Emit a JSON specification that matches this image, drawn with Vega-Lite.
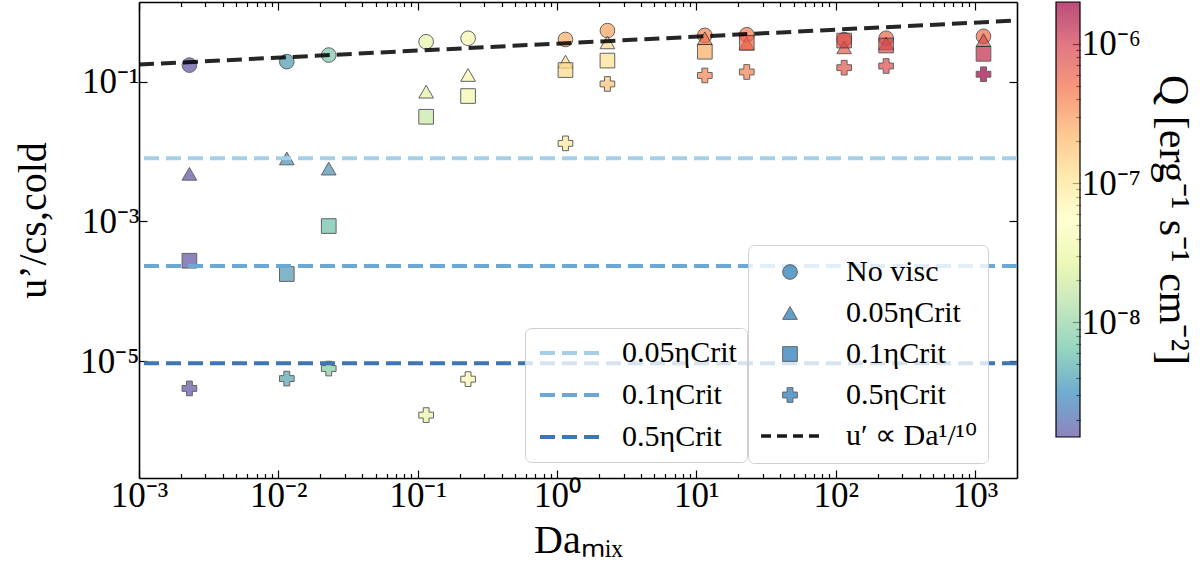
{
  "$schema": "https://vega.github.io/schema/vega-lite/v6.json",
  "background": "white",
  "padding": {"left": 13, "top": 1, "right": 15, "bottom": 0},
  "autosize": {"type": "pad"},
  "spacing": 36,
  "config": {
    "font": "Liberation Serif",
    "view": {"stroke": null},
    "axis": {
      "grid": false,
      "labelFont": "Liberation Serif",
      "labelFontSize": 35,
      "labelColor": "#000000",
      "titleFont": "Liberation Serif",
      "titleFontSize": 40,
      "titleFontWeight": "normal",
      "titleColor": "#000000",
      "domainColor": "#000000",
      "domainWidth": 1.6,
      "tickColor": "#000000",
      "tickWidth": 1.2,
      "labelOverlap": false,
      "labelFlush": false,
      "labelBound": false
    },
    "legend": {
      "labelFont": "Liberation Serif",
      "labelFontSize": 30,
      "labelColor": "#000000",
      "fillColor": "rgba(255,255,255,0.8)",
      "strokeColor": "#d0d0d0",
      "cornerRadius": 6
    }
  },
  "datasets": {
    "runs": [
      {"da": 0.0023, "u": 0.173, "q": 1.5e-9, "visc": "No visc"},
      {"da": 0.0115, "u": 0.194, "q": 3.8e-9, "visc": "No visc"},
      {"da": 0.023, "u": 0.241, "q": 7.4e-9, "visc": "No visc"},
      {"da": 0.115, "u": 0.374, "q": 3.1e-8, "visc": "No visc"},
      {"da": 0.23, "u": 0.419, "q": 4.8e-8, "visc": "No visc"},
      {"da": 1.15, "u": 0.403, "q": 2.3e-7, "visc": "No visc"},
      {"da": 2.3, "u": 0.54, "q": 2.7e-7, "visc": "No visc"},
      {"da": 11.5, "u": 0.462, "q": 3.8e-7, "visc": "No visc"},
      {"da": 23, "u": 0.471, "q": 4.4e-7, "visc": "No visc"},
      {"da": 115, "u": 0.40, "q": 5.5e-7, "visc": "No visc"},
      {"da": 230, "u": 0.42, "q": 5.5e-7, "visc": "No visc"},
      {"da": 1150, "u": 0.447, "q": 5.1e-7, "visc": "No visc"},
      {"da": 0.0023, "u": 0.0048, "q": 1.5e-9, "visc": "0.05ηCrit"},
      {"da": 0.0115, "u": 0.00797, "q": 3.4e-9, "visc": "0.05ηCrit"},
      {"da": 0.023, "u": 0.0057, "q": 3.5e-9, "visc": "0.05ηCrit"},
      {"da": 0.115, "u": 0.072, "q": 2.8e-8, "visc": "0.05ηCrit"},
      {"da": 0.23, "u": 0.125, "q": 5.0e-8, "visc": "0.05ηCrit"},
      {"da": 1.15, "u": 0.194, "q": 1.1e-7, "visc": "0.05ηCrit"},
      {"da": 2.3, "u": 0.366, "q": 1.2e-7, "visc": "0.05ηCrit"},
      {"da": 11.5, "u": 0.419, "q": 4.7e-7, "visc": "0.05ηCrit"},
      {"da": 23, "u": 0.355, "q": 5.5e-7, "visc": "0.05ηCrit"},
      {"da": 115, "u": 0.311, "q": 6.3e-7, "visc": "0.05ηCrit"},
      {"da": 230, "u": 0.355, "q": 7.5e-7, "visc": "0.05ηCrit"},
      {"da": 1150, "u": 0.395, "q": 7.8e-7, "visc": "0.05ηCrit"},
      {"da": 0.0023, "u": 0.000273, "q": 1.5e-9, "visc": "0.1ηCrit"},
      {"da": 0.0115, "u": 0.000176, "q": 3.8e-9, "visc": "0.1ηCrit"},
      {"da": 0.023, "u": 0.000857, "q": 6.5e-9, "visc": "0.1ηCrit"},
      {"da": 0.115, "u": 0.0315, "q": 1.9e-8, "visc": "0.1ηCrit"},
      {"da": 0.23, "u": 0.0624, "q": 4.5e-8, "visc": "0.1ηCrit"},
      {"da": 1.15, "u": 0.147, "q": 1.15e-7, "visc": "0.1ηCrit"},
      {"da": 2.3, "u": 0.201, "q": 1.05e-7, "visc": "0.1ηCrit"},
      {"da": 11.5, "u": 0.269, "q": 2.3e-7, "visc": "0.1ηCrit"},
      {"da": 23, "u": 0.36, "q": 5.5e-7, "visc": "0.1ηCrit"},
      {"da": 115, "u": 0.389, "q": 7.8e-7, "visc": "0.1ηCrit"},
      {"da": 230, "u": 0.33, "q": 8.4e-7, "visc": "0.1ηCrit"},
      {"da": 1150, "u": 0.251, "q": 1.2e-6, "visc": "0.1ηCrit"},
      {"da": 0.0023, "u": 4.05e-6, "q": 1.5e-9, "visc": "0.5ηCrit"},
      {"da": 0.0115, "u": 5.6e-6, "q": 4.5e-9, "visc": "0.5ηCrit"},
      {"da": 0.023, "u": 7.8e-6, "q": 8.5e-9, "visc": "0.5ηCrit"},
      {"da": 0.115, "u": 1.68e-6, "q": 3.8e-8, "visc": "0.5ηCrit"},
      {"da": 0.23, "u": 5.5e-6, "q": 5.6e-8, "visc": "0.5ηCrit"},
      {"da": 1.15, "u": 0.0131, "q": 8.4e-8, "visc": "0.5ηCrit"},
      {"da": 2.3, "u": 0.093, "q": 1.75e-7, "visc": "0.5ηCrit"},
      {"da": 11.5, "u": 0.123, "q": 3.8e-7, "visc": "0.5ηCrit"},
      {"da": 23, "u": 0.138, "q": 4.0e-7, "visc": "0.5ηCrit"},
      {"da": 115, "u": 0.159, "q": 6.8e-7, "visc": "0.5ηCrit"},
      {"da": 230, "u": 0.168, "q": 7.8e-7, "visc": "0.5ηCrit"},
      {"da": 1150, "u": 0.128, "q": 2.0e-6, "visc": "0.5ηCrit"}
    ],
    "etaLines": [
      {"eta": "0.05ηCrit", "u": 0.0080},
      {"eta": "0.1ηCrit", "u": 0.000229},
      {"eta": "0.5ηCrit", "u": 9.25e-6}
    ],
    "scaling": [
      {"da": 0.001, "u": 0.176},
      {"da": 2000, "u": 0.752}
    ],
    "qRange": [
      {"qlo": 1.5e-9, "qhi": 2e-6}
    ]
  },
  "resolve": {"legend": {"shape": "independent", "stroke": "independent", "fill": "independent"}},
  "hconcat": [
    {
      "width": 878,
      "height": 476,
      "resolve": {"axis": {"x": "independent", "y": "independent"}},
      "layer": [
        {
          "data": {"name": "runs"},
          "mark": {"type": "point", "filled": true, "size": 215, "opacity": 0.7, "stroke": "#222222", "strokeWidth": 1},
          "encoding": {
            "x": {
              "field": "da", "type": "quantitative",
              "scale": {"type": "log", "domain": [0.001, 2000], "nice": false},
              "axis": {
                "orient": "bottom",
                "title": "Daₘᵢₓ",
                "titlePadding": 4,
                "labelPadding": 8,
                "values": [0.001,0.002,0.003,0.004,0.005,0.006,0.007,0.008,0.009,0.01,0.02,0.03,0.04,0.05,0.06,0.07,0.08,0.09,0.1,0.2,0.3,0.4,0.5,0.6,0.7,0.8,0.9,1,2,3,4,5,6,7,8,9,10,20,30,40,50,60,70,80,90,100,200,300,400,500,600,700,800,900,1000],
                "tickSize": {"condition": {"test": "indexof([0.001,0.01,0.1,1,10,100,1000], datum.value) >= 0", "value": -8}, "value": -4.5},
                "labelExpr": "datum.value == 0.001 ? '10⁻³' : datum.value == 0.01 ? '10⁻²' : datum.value == 0.1 ? '10⁻¹' : datum.value == 1 ? '10⁰' : datum.value == 10 ? '10¹' : datum.value == 100 ? '10²' : datum.value == 1000 ? '10³' : ''"
              }
            },
            "y": {
              "field": "u", "type": "quantitative",
              "scale": {"type": "log", "domain": [2.11e-7, 1.387], "nice": false},
              "axis": {
                "orient": "left",
                "title": "u’/cs,cold",
                "titlePadding": 26,
                "titleY": 218,
                "labelPadding": 8,
                "values": [0.00001, 0.001, 0.1],
                "tickSize": -8,
                "labelExpr": "datum.value == 0.1 ? '10⁻¹' : datum.value == 0.001 ? '10⁻³' : datum.value == 0.00001 ? '10⁻⁵' : ''"
              }
            },
            "fill": {
              "field": "q", "type": "quantitative",
              "scale": {"type": "log", "domain": [1.5e-9, 2e-6], "nice": false, "scheme": "spectral", "reverse": true},
              "legend": null
            },
            "shape": {
              "field": "visc", "type": "nominal",
              "scale": {
                "domain": ["No visc", "0.05ηCrit", "0.1ηCrit", "0.5ηCrit", "u′ ∝ Da¹/¹⁰"],
                "range": ["circle", "triangle-up", "square", "cross", "M-3.95,0H-2.59M-1.77,0H-0.41M0.41,0H1.77M2.59,0H3.95"]
              },
              "legend": {
                "orient": "none",
                "legendX": 609,
                "legendY": 243,
                "title": null,
                "padding": 12,
                "symbolOffset": 15,
                "symbolSize": 215,
                "labelOffset": 41,
                "rowPadding": 11,
                "symbolFillColor": {"expr": "datum.index === 4 ? 'transparent' : '#1f77b4'"},
                "symbolStrokeColor": {"expr": "datum.index === 4 ? '#000000' : '#222222'"},
                "symbolStrokeWidth": {"expr": "datum.index === 4 ? 3.5 : 1"},
                "symbolOpacity": {"expr": "datum.index === 4 ? 0.9 : 0.7"}
              }
            }
          }
        },
        {
          "data": {"name": "etaLines"},
          "mark": {"type": "rule", "strokeWidth": 4, "strokeDash": [15, 7]},
          "encoding": {
            "y": {
              "field": "u", "type": "quantitative",
              "scale": {"type": "log", "domain": [2.11e-7, 1.387], "nice": false},
              "axis": null
            },
            "stroke": {
              "field": "eta", "type": "nominal",
              "scale": {"domain": ["0.05ηCrit", "0.1ηCrit", "0.5ηCrit"], "range": ["#a6cfe6", "#6aa8d5", "#3e75b3"]},
              "legend": {
                "orient": "none",
                "legendX": 386,
                "legendY": 326,
                "title": null,
                "padding": 10,
                "symbolType": "M-4,0H4",
                "symbolSize": 225,
                "symbolStrokeWidth": 4,
                "symbolDash": [15, 7],
                "symbolOffset": 20,
                "labelOffset": 37,
                "rowPadding": 12
              }
            }
          }
        },
        {
          "data": {"name": "scaling"},
          "mark": {"type": "line", "color": "#000000", "opacity": 0.85, "strokeWidth": 4, "strokeDash": [15, 7], "clip": true},
          "encoding": {
            "x": {
              "field": "da", "type": "quantitative",
              "scale": {"type": "log", "domain": [0.001, 2000], "nice": false},
              "axis": {
                "orient": "top",
                "title": null,
                "labels": false,
                "values": [0.001,0.002,0.003,0.004,0.005,0.006,0.007,0.008,0.009,0.01,0.02,0.03,0.04,0.05,0.06,0.07,0.08,0.09,0.1,0.2,0.3,0.4,0.5,0.6,0.7,0.8,0.9,1,2,3,4,5,6,7,8,9,10,20,30,40,50,60,70,80,90,100,200,300,400,500,600,700,800,900,1000],
                "tickSize": {"condition": {"test": "indexof([0.001,0.01,0.1,1,10,100,1000], datum.value) >= 0", "value": -8}, "value": -4.5}
              }
            },
            "y": {
              "field": "u", "type": "quantitative",
              "scale": {"type": "log", "domain": [2.11e-7, 1.387], "nice": false},
              "axis": {
                "orient": "right",
                "title": null,
                "labels": false,
                "values": [0.00001, 0.001, 0.1],
                "tickSize": -8
              }
            }
          }
        }
      ]
    },
    {
      "width": 24,
      "height": 435,
      "data": {"name": "qRange"},
      "mark": {
        "type": "rect",
        "fill": {
          "gradient": "linear",
          "x1": 0, "y1": 1, "x2": 0, "y2": 0,
          "stops": [
            {"offset": 0.0, "color": "#5e4fa2"},
            {"offset": 0.1, "color": "#3288bd"},
            {"offset": 0.2, "color": "#66c2a5"},
            {"offset": 0.3, "color": "#abdda4"},
            {"offset": 0.4, "color": "#e6f598"},
            {"offset": 0.5, "color": "#ffffbf"},
            {"offset": 0.6, "color": "#fee08b"},
            {"offset": 0.7, "color": "#fdae61"},
            {"offset": 0.8, "color": "#f46d43"},
            {"offset": 0.9, "color": "#d53e4f"},
            {"offset": 1.0, "color": "#9e0142"}
          ]
        },
        "fillOpacity": 0.7,
        "stroke": "#000000",
        "strokeWidth": 1.2
      },
      "encoding": {
        "y": {
          "field": "qlo", "type": "quantitative",
          "scale": {"type": "log", "domain": [1.5e-9, 2e-6], "nice": false},
          "axis": {
            "orient": "right",
            "domain": false,
            "title": "Q [erg⁻¹ s⁻¹ cm⁻²]",
            "titleAngle": 90,
            "titleFontSize": 42,
            "titlePadding": 10,
            "labelPadding": 9,
            "values": [2e-9,3e-9,4e-9,5e-9,6e-9,7e-9,8e-9,9e-9,1e-8,2e-8,3e-8,4e-8,5e-8,6e-8,7e-8,8e-8,9e-8,1e-7,2e-7,3e-7,4e-7,5e-7,6e-7,7e-7,8e-7,9e-7,1e-6],
            "tickSize": {"condition": {"test": "indexof([1e-8,1e-7,1e-6], datum.value) >= 0", "value": -7.7}, "value": -4.3},
            "labelExpr": "datum.value == 1e-8 ? '10⁻⁸' : datum.value == 1e-7 ? '10⁻⁷' : datum.value == 1e-6 ? '10⁻⁶' : ''"
          }
        },
        "y2": {"field": "qhi"}
      }
    }
  ]
}
